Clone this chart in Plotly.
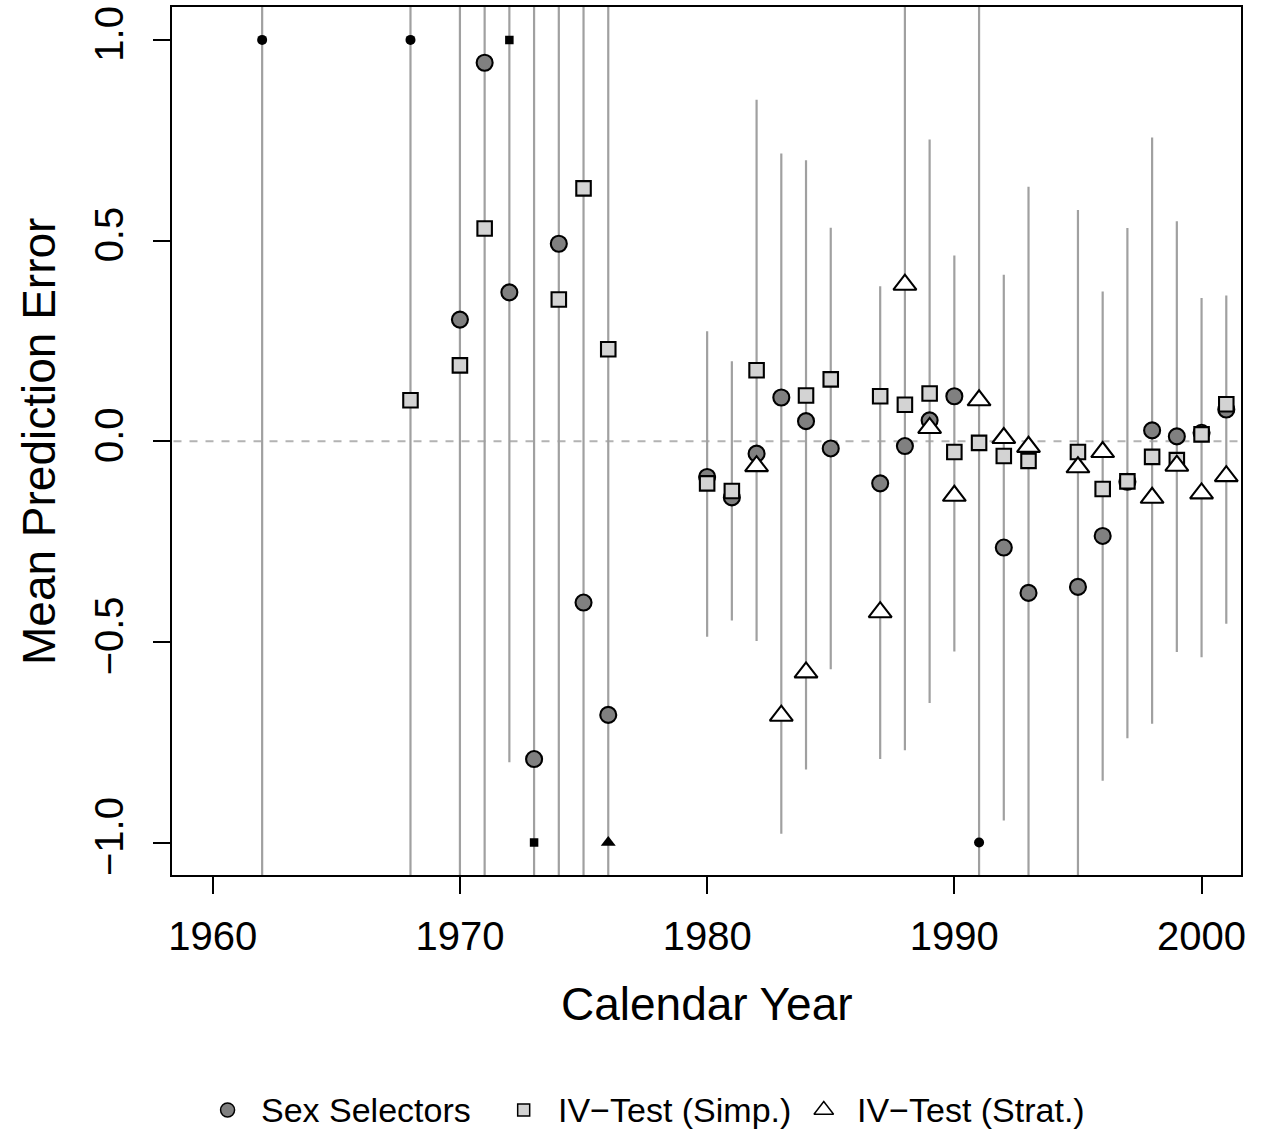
import numpy as np
import plotly.graph_objects as go

# ---- data -------------------------------------------------------------
years = [1962, 1968, 1970, 1971, 1972, 1973, 1974, 1975, 1976,
         1980, 1981, 1982, 1983, 1984, 1985, 1987, 1988, 1989, 1990,
         1991, 1992, 1993, 1995, 1996, 1997, 1998, 1999, 2000, 2001]

# interval bounds per year (values beyond +/-1.08 run off the panel)
ci_lower = [-1.60, -1.55, -1.50, -1.45, -0.80, -1.70, -1.50, -1.40, -1.35,
            -0.487, -0.447, -0.498, -0.978, -0.818, -0.568, -0.792, -0.770, -0.652, -0.524,
            -1.40, -0.945, -1.25, -1.20, -0.846, -0.740, -0.704, -0.525, -0.538, -0.455]
ci_upper = [1.70, 1.60, 1.45, 1.50, 1.55, 1.40, 1.45, 1.50, 1.35,
            0.274, 0.199, 0.851, 0.717, 0.700, 0.532, 0.386, 1.20, 0.752, 0.463,
            1.30, 0.415, 0.634, 0.576, 0.373, 0.531, 0.757, 0.548, 0.357, 0.363]

sex_selectors = [1.52, 1.31, 0.303, 0.943, 0.371, -0.792, 0.492, -0.402, -0.682,
                 -0.089, -0.140, -0.031, 0.109, 0.050, -0.018, -0.105, -0.012, 0.052, 0.112,
                 -1.05, -0.265, -0.378, -0.363, -0.236, -0.101, 0.027, 0.012, 0.021, 0.079]

iv_simp = [None, 0.102, 0.189, 0.530, 1.18, -1.24, 0.353, 0.630, 0.229,
           -0.105, -0.124, 0.177, None, 0.114, 0.154, 0.112, 0.091, 0.119, -0.027,
           -0.004, -0.037, -0.049, -0.027, -0.119, -0.100, -0.039, -0.047, 0.017, 0.092]

iv_strat = [None, None, None, None, None, None, None, None, -1.12,
            None, None, -0.062, -0.684, -0.576, None, -0.426, 0.390, 0.033, -0.136,
            0.102, 0.008, -0.014, -0.065, -0.027, None, -0.141, -0.061, -0.130, -0.087]

x_ticks = [1960, 1970, 1980, 1990, 2000]
y_ticks = [-1.0, -0.5, 0.0, 0.5, 1.0]
y_tick_text = ["\u22121.0", "\u22120.5", "0.0", "0.5", "1.0"]

series_names = ["Sex Selectors", "IV\u2212Test (Simp.)", "IV\u2212Test (Strat.)"]

# ---- figure geometry (pixels) ------------------------------------------
W, H = 1264, 1133
PL, PR, PT, PB = 170, 1246, 6, 876
FONT = "Liberation Sans, Arial, Helvetica, sans-serif"

fig = go.Figure()

# dashed reference line at zero
fig.add_trace(go.Scatter(x=[1950, 2010], y=[0, 0], mode="lines",
                         line=dict(color="#b3b3b3", width=2, dash="8px,8px"),
                         hoverinfo="skip", showlegend=False))

# vertical interval segments
seg_x, seg_y = [], []
for yr, lo, hi in zip(years, ci_lower, ci_upper):
    seg_x += [yr, yr, None]
    seg_y += [lo, hi, None]
fig.add_trace(go.Scatter(x=seg_x, y=seg_y, mode="lines",
                         line=dict(color="#a0a0a0", width=2.2),
                         hoverinfo="skip", showlegend=False))


def split(values):
    """Separate in-range points from those clipped to the +/-1 border."""
    xin, yin, xout, yout = [], [], [], []
    for yr, v in zip(years, values):
        if v is None:
            continue
        if abs(v) > 1:
            xout.append(yr)
            yout.append(float(np.clip(v, -1, 1)))
        else:
            xin.append(yr)
            yin.append(v)
    return xin, yin, xout, yout


styles = [
    dict(symbol="circle", size=16, color="#808080", out_symbol="circle", out_size=10),
    dict(symbol="square", size=14.5, color="#d3d3d3", out_symbol="square", out_size=8.5),
    dict(symbol="triangle-up", size=20, color="#ffffff", out_symbol="triangle-up", out_size=13),
]

for name, vals, st in zip(series_names, [sex_selectors, iv_simp, iv_strat], styles):
    xin, yin, xout, yout = split(vals)
    fig.add_trace(go.Scatter(x=xin, y=yin, mode="markers", name=name,
                             marker=dict(symbol=st["symbol"], size=st["size"], color=st["color"],
                                         line=dict(color="black", width=2.1)),
                             showlegend=False))
    if xout:
        fig.add_trace(go.Scatter(x=xout, y=yout, mode="markers", name=name + " (off scale)",
                                 marker=dict(symbol=st["out_symbol"], size=st["out_size"],
                                             color="black", line=dict(width=0)),
                                 showlegend=False))

# ---- legend drawn on a pixel-based overlay axis -------------------------
legend_pos = [(226, 258), (524, 557), (826, 857)]
legend_y = 1111
leg_sizes = [14, 12, 17]
for (mx, tx), name, st, sz in zip(legend_pos, series_names, styles, leg_sizes):
    fig.add_trace(go.Scatter(x=[mx], y=[legend_y], xaxis="x2", yaxis="y2", mode="markers",
                             marker=dict(symbol=st["symbol"], size=sz, color=st["color"],
                                         line=dict(color="black", width=1.5)),
                             hoverinfo="skip", showlegend=False))
    fig.add_annotation(x=tx, y=legend_y, xref="x2", yref="y2", text=name, showarrow=False,
                       xanchor="left", yanchor="middle",
                       font=dict(family=FONT, size=34, color="black"))

# axis titles
fig.add_annotation(x=(PL + PR) / 2, y=1005, xref="x2", yref="y2", text="Calendar Year",
                   showarrow=False, xanchor="center", yanchor="middle",
                   font=dict(family=FONT, size=46, color="black"))
fig.add_annotation(x=36, y=(PT + PB) / 2, xref="x2", yref="y2", text="Mean Prediction Error",
                   showarrow=False, textangle=-90, xanchor="center", yanchor="middle",
                   font=dict(family=FONT, size=46, color="black"))

fig.update_layout(
    width=W, height=H,
    margin=dict(l=0, r=0, t=0, b=0),
    paper_bgcolor="white",
    plot_bgcolor="rgba(0,0,0,0)",
    showlegend=False,
    xaxis=dict(domain=[PL / W, PR / W], range=[1958.35, 2001.6],
               tickvals=x_ticks, ticks="outside", ticklen=17, tickwidth=2, tickcolor="black",
               showline=True, linecolor="black", linewidth=2, mirror=True,
               showgrid=False, zeroline=False, ticklabelstandoff=8,
               tickfont=dict(family=FONT, size=40, color="black")),
    yaxis=dict(domain=[1 - PB / H, 1 - PT / H], range=[-1.082, 1.082],
               tickvals=y_ticks, ticktext=y_tick_text, tickangle=-90,
               ticks="outside", ticklen=17, tickwidth=2, tickcolor="black",
               showline=True, linecolor="black", linewidth=2, mirror=True,
               showgrid=False, zeroline=False, ticklabelstandoff=14,
               tickfont=dict(family=FONT, size=40, color="black")),
    xaxis2=dict(domain=[0, 1], range=[0, W], visible=False, fixedrange=True),
    yaxis2=dict(domain=[0, 1], range=[H, 0], visible=False, fixedrange=True),
)

fig.write_html("out.html")
